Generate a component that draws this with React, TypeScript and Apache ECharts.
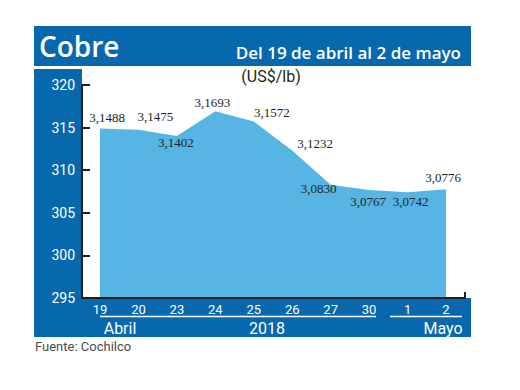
import React, { useEffect, useRef } from "react";
import * as echarts from "echarts";

const categories = ["19", "20", "23", "24", "25", "26", "27", "30", "1", "2"];
// Precio del cobre, centavos de US$/lb
const prices = [314.88, 314.75, 314.02, 316.93, 315.72, 312.32, 308.3, 307.67, 307.42, 307.76];
const yTicks = [295, 300, 305, 310, 315, 320];
const monthLabels = ["Abril", "2018", "Mayo"];

// label placement offsets (style only)
const labelOffsets: [number, number][] = [
  [7, -11], [17, -13], [-1, 7], [-3, -9], [18, -9], [23, -7], [-12, 4], [-1, 11], [3, 9], [-3, -12],
];

const DARK_BLUE = "#0768AE";
const LIGHT_BLUE = "#56B5E3";
const INK = "#231F20";

export default function App() {
  const ref = useRef<HTMLDivElement>(null);
  useEffect(() => {
    if (!ref.current) return;
    const chart = echarts.init(ref.current, undefined, { renderer: "svg" });
    const fmt = (v: number) => (v / 100).toFixed(4).replace(".", ",");
    chart.setOption({
      animation: false,
      backgroundColor: "#ffffff",
      grid: { left: 100, right: 74, top: 85, bottom: 92 },
      xAxis: {
        type: "category",
        data: categories,
        boundaryGap: false,
        axisLine: { show: false },
        axisTick: { show: false },
        axisLabel: { color: "#ffffff", fontFamily: "Roboto", fontSize: 13, margin: 5 },
        z: 5,
      },
      yAxis: {
        type: "value",
        min: yTicks[0],
        max: yTicks[yTicks.length - 1],
        interval: 5,
        offset: 18,
        splitLine: { show: false },
        axisLine: { show: true, lineStyle: { color: INK, width: 2 } },
        axisTick: { show: true, inside: true, length: 8, lineStyle: { color: INK, width: 2 } },
        axisLabel: { color: "#ffffff", fontFamily: "Roboto", fontSize: 14, margin: 7 },
        z: 5,
      },
      series: [
        {
          type: "line",
          data: prices.map((v, i) => ({
            value: v,
            label: { offset: labelOffsets[i] },
          })),
          symbol: "circle",
          symbolSize: 1,
          itemStyle: { color: "rgba(0,0,0,0)" },
          lineStyle: { width: 0, color: LIGHT_BLUE },
          areaStyle: { color: LIGHT_BLUE, opacity: 1 },
          z: 2,
          label: {
            show: true,
            position: "inside",
            formatter: (p: any) => fmt(p.value),
            color: INK,
            fontFamily: "Liberation Serif",
            fontSize: 13,
          },
        },
      ],
      graphic: [
        { type: "rect", z: -10, shape: { x: 34, y: 26, width: 437, height: 40 }, style: { fill: DARK_BLUE } },
        { type: "rect", z: -10, shape: { x: 34, y: 69, width: 48, height: 268 }, style: { fill: DARK_BLUE } },
        { type: "rect", z: -10, shape: { x: 34, y: 298, width: 437, height: 39 }, style: { fill: DARK_BLUE } },
        { type: "line", z: 10, shape: { x1: 82, y1: 298, x2: 465, y2: 298 }, style: { stroke: INK, lineWidth: 2 } },
        { type: "line", z: 10, shape: { x1: 465, y1: 292, x2: 465, y2: 299 }, style: { stroke: INK, lineWidth: 2 } },
        { type: "line", z: 10, shape: { x1: 100, y1: 316.5, x2: 376, y2: 316.5 }, style: { stroke: "#ffffff", lineWidth: 1.5 } },
        { type: "line", z: 10, shape: { x1: 390, y1: 316.5, x2: 462, y2: 316.5 }, style: { stroke: "#ffffff", lineWidth: 1.5 } },
        {
          type: "text", z: 10, x: 39, y: 46,
          style: { text: "Cobre", fill: "#ffffff", font: "600 28px 'Open Sans'", textVerticalAlign: "middle", textAlign: "left" },
        },
        {
          type: "text", z: 10, x: 461, y: 52,
          style: { text: "Del 19 de abril al 2 de mayo", fill: "#ffffff", font: "600 17px 'Open Sans'", textVerticalAlign: "middle", textAlign: "right" },
        },
        {
          type: "text", z: 10, x: 271, y: 76,
          style: { text: "(US$/lb)", fill: INK, font: "16px Roboto", textVerticalAlign: "middle", textAlign: "center" },
        },
        {
          type: "text", z: 10, x: 120, y: 328,
          style: { text: monthLabels[0], fill: "#ffffff", font: "16px Roboto", textVerticalAlign: "middle", textAlign: "center" },
        },
        {
          type: "text", z: 10, x: 267, y: 328,
          style: { text: monthLabels[1], fill: "#ffffff", font: "16px Roboto", textVerticalAlign: "middle", textAlign: "center" },
        },
        {
          type: "text", z: 10, x: 443, y: 328,
          style: { text: monthLabels[2], fill: "#ffffff", font: "16px Roboto", textVerticalAlign: "middle", textAlign: "center" },
        },
        {
          type: "text", z: 10, x: 35, y: 346,
          style: { text: "Fuente: Cochilco", fill: "#4D4D4D", font: "13px Roboto", textVerticalAlign: "middle", textAlign: "left" },
        },
      ],
    });
    return () => chart.dispose();
  }, []);
  return (
    <div
      ref={ref}
      style={{ position: "absolute", left: 0, top: 0, width: 520, height: 390 }}
    />
  );
}
